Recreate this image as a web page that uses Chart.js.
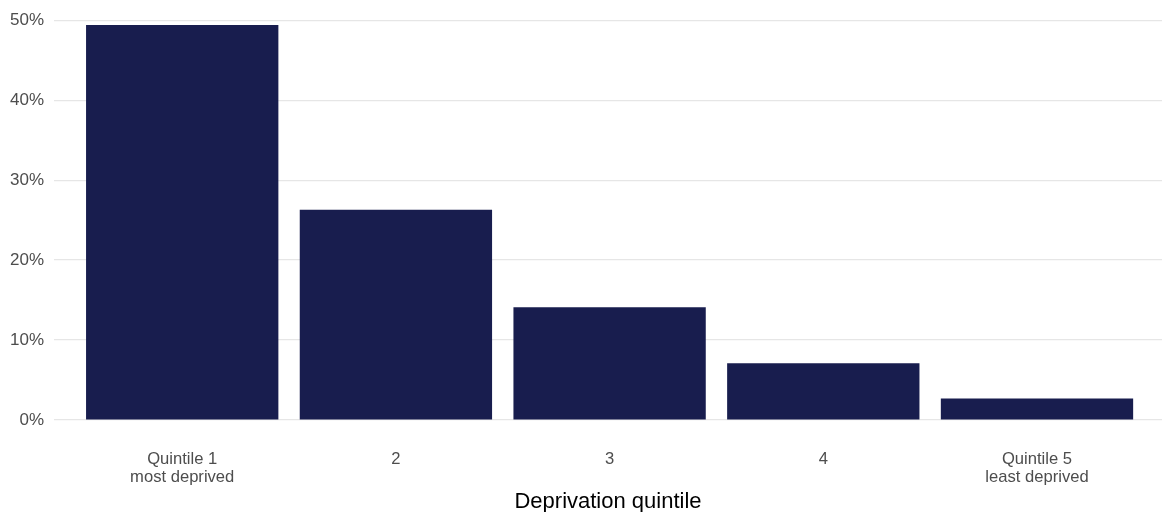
<!DOCTYPE html>
<html>
<head>
<meta charset="utf-8">
<script src="https://cdn.jsdelivr.net/npm/chart.js@4.4.1/dist/chart.umd.min.js"></script>
<style>
  html, body { margin: 0; padding: 0; background: #fff; overflow: hidden; }
  canvas { display: block; }
</style>
</head>
<body>
<canvas id="chart" width="1162" height="512"></canvas>
<script>
const categories = [["Quintile 1", "most deprived"], "2", "3", "4", ["Quintile 5", "least deprived"]];
const positions = [1, 2, 3, 4, 5];
const shares = [49.4, 26.3, 14.1, 7.1, 2.7];
const yTicks = [0, 10, 20, 30, 40, 50];

const chart = new Chart(document.getElementById("chart"), {
  type: "bar",
  data: {
    datasets: [{
      data: positions.map((p, i) => ({ x: p, y: shares[i] })),
      backgroundColor: "#181d4e",
      borderWidth: 0,
      barPercentage: 0.9,
      categoryPercentage: 1
    }]
  },
  options: {
    responsive: false,
    animation: false,
    devicePixelRatio: 1,
    layout: { padding: { top: 17, right: 0, left: 0, bottom: 0 } },
    plugins: { legend: { display: false }, tooltip: { enabled: false } },
    scales: {
      x: {
        type: "linear",
        min: 0.4,
        max: 5.585,
        offset: false,
        grid: { display: false },
        border: { display: false },
        afterFit: s => { s.height = 92; },
        afterBuildTicks: s => { s.ticks = positions.map(v => ({ value: v })); },
        ticks: {
          autoSkip: false,
          maxRotation: 0,
          padding: 22,
          color: "#4d4d4d",
          font: { family: "'Liberation Sans', Arial, sans-serif", size: 16.6, lineHeight: 1.1 },
          callback: v => categories[v - 1]
        },
        title: {
          display: true,
          text: "Deprivation quintile",
          color: "#000",
          font: { family: "'Liberation Sans', Arial, sans-serif", size: 22 },
          padding: { top: 0, bottom: -3 }
        }
      },
      y: {
        min: 0,
        max: 50,
        grid: { color: "#e6e6e6", lineWidth: 1.2, drawTicks: false },
        border: { display: false },
        afterFit: s => { s.width = 54; },
        afterBuildTicks: s => { s.ticks = yTicks.map(v => ({ value: v })); },
        ticks: {
          padding: 10,
          color: "#4d4d4d",
          font: { family: "'Liberation Sans', Arial, sans-serif", size: 17 },
          callback: v => v + "%"
        }
      }
    }
  }
});
</script>
</body>
</html>
